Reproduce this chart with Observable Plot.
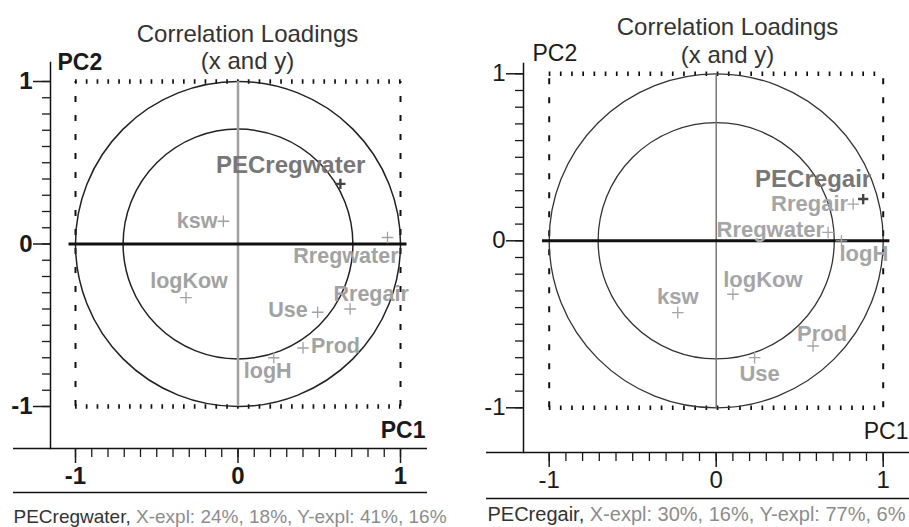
<!DOCTYPE html>
<html><head><meta charset="utf-8">
<script src="https://cdn.jsdelivr.net/npm/d3@7"></script>
<script src="https://cdn.jsdelivr.net/npm/@observablehq/plot@0.6"></script>
<style>
body{margin:0;background:#fff;}
#wrap{position:relative;width:909px;height:527px;overflow:hidden;background:#fff;font-family:"Liberation Sans",Arial,sans-serif;}
.panel{position:absolute;top:0;}
</style></head><body><div id="wrap"></div>
<script>
// ---- data ----
const waterNames = ["PECregwater","ksw","Rregwater","logKow","Use","Rregair","Prod","logH"];
const waterPC1   = [0.63, -0.09, 0.92, -0.32, 0.49, 0.69, 0.40, 0.22];
const waterPC2   = [0.37,  0.14, 0.04, -0.33, -0.42, -0.40, -0.64, -0.70];

const airNames = ["PECregair","Rregair","Rregwater","logH","logKow","ksw","Prod","Use"];
const airPC1   = [0.88, 0.82, 0.67, 0.75, 0.10, -0.23, 0.58, 0.23];
const airPC2   = [0.25, 0.22, 0.05, 0.00, -0.32, -0.43, -0.63, -0.70];

const majorTicks = [-1, 0, 1];
const titleLines = ["Correlation Loadings", "(x and y)"];
const axisNames = ["PC1", "PC2"];
const captionNames = ["PECregwater,", "PECregair,"];
const captionExpl = ["X-expl: 24%, 18%, Y-expl: 41%, 16%", "X-expl: 30%, 16%, Y-expl: 77%, 6%"];

// ---- layout (pixels) ----
const minorTicks = d3.range(-10, 11).map(i => i / 10);
const FONT = "Liberation Sans, Arial, sans-serif";

function measure(txt, size, weight) {
  const c = document.createElement("canvas").getContext("2d");
  c.font = `${weight || "normal"} ${size}px "Liberation Sans", Arial, sans-serif`;
  return c.measureText(txt).width;
}

function panel(cfg) {
  const {W, H, s, ox, oy, L, R, T, B, ext, sepY} = cfg;
  const X = px => (px - ox) / s, Y = py => (oy - py) / s;
  const xd = [X(L), X(R)], yd = [Y(B), Y(T)];
  const pts = cfg.names.map((n, i) => ({name: n, x: cfg.xs[i], y: cfg.ys[i]}));
  const main = pts.slice(0, 1), rest = pts.slice(1);
  const capW = measure(cfg.capName + " ", cfg.capSize, "normal");
  const labelMarks = pts.map((p, i) => {
    const [anchor, dx, dy] = cfg.layout[p.name];
    return Plot.text([p], {x: "x", y: "y", text: "name", textAnchor: anchor, dx, dy, lineAnchor: "bottom",
      fontSize: i === 0 ? cfg.mainSize : cfg.labSize, fontWeight: "bold", fill: i === 0 ? cfg.mainColor : cfg.labColor});
  });
  return Plot.plot({
    width: W, height: H,
    marginLeft: L, marginRight: W - R, marginTop: T, marginBottom: H - B,
    x: {domain: xd, axis: null}, y: {domain: yd, axis: null},
    style: {fontFamily: FONT, background: "transparent", overflow: "visible", color: "#1a1a1a"},
    marks: [
      // dotted unit square
      Plot.ruleY([-1, 1], {x1: -1, x2: 1.01, stroke: "#111", strokeWidth: 4.5, strokeDasharray: cfg.hDash}),
      Plot.ruleX([-1, 1], {y1: -1, y2: 1, stroke: "#111", strokeWidth: 2, strokeDasharray: "6,13"}),
      // correlation circles
      Plot.dot([{x: 0, y: 0}], {x: "x", y: "y", r: s, fill: "none", stroke: cfg.circColor, strokeWidth: cfg.circW}),
      Plot.dot([{x: 0, y: 0}], {x: "x", y: "y", r: s * Math.SQRT1_2, fill: "none", stroke: cfg.circColor, strokeWidth: cfg.circW}),
      // origin lines
      Plot.ruleX([0], {y1: -1, y2: 1, stroke: cfg.vColor, strokeWidth: cfg.vW}),
      Plot.ruleY([0], {x1: -1.04, x2: 1.04, stroke: "#111", strokeWidth: 3}),
      // axes
      Plot.frame({anchor: "left", stroke: "#111", strokeWidth: 1.5}),
      Plot.ruleY([yd[0]], {x1: X(ext), x2: xd[1], stroke: "#111", strokeWidth: 1.5}),
      Plot.ruleY([Y(sepY)], {x1: X(ext), x2: xd[1], stroke: "#111", strokeWidth: 1.5}),
      Plot.axisY(minorTicks, {anchor: "left", tickSize: 8, tickFormat: () => "", label: null, strokeWidth: 1.3}),
      Plot.axisY(majorTicks, {anchor: "left", tickSize: 17, tickPadding: 1, tickFormat: d => String(d), label: null,
        fontSize: cfg.tickSize, fontWeight: cfg.axisWeight, strokeWidth: 1.5}),
      Plot.axisX(minorTicks, {anchor: "bottom", tickSize: 9, tickFormat: () => "", label: null, strokeWidth: 1.3}),
      Plot.axisX(majorTicks, {anchor: "bottom", tickSize: 15, tickPadding: 3, tickFormat: d => String(d), label: null,
        fontSize: cfg.tickSize, fontWeight: cfg.axisWeight, strokeWidth: 1.5}),
      // points
      Plot.dot(rest, {x: "x", y: "y", symbol: "plus", r: 3.8, stroke: cfg.labColor, strokeWidth: 1.3}),
      Plot.dot(main, {x: "x", y: "y", symbol: "plus", r: 3.4, stroke: "#444", strokeWidth: 2.4}),
      ...labelMarks,
      // titles & axis names
      Plot.text([titleLines[0]], {x: X(cfg.titleX), y: Y(cfg.titleY1), text: d => d, lineAnchor: "bottom", fontSize: 24, fill: "#333"}),
      Plot.text([titleLines[1]], {x: X(cfg.titleX), y: Y(cfg.titleY2), text: d => d, lineAnchor: "bottom", fontSize: 24, fill: "#333"}),
      Plot.text([axisNames[1]], {x: X(cfg.pc2X), y: Y(cfg.pc2Y), text: d => d, lineAnchor: "bottom", textAnchor: "start", fontSize: 23, fontWeight: cfg.axisWeight, fill: "#1a1a1a"}),
      Plot.text([axisNames[0]], {x: X(cfg.pc1X), y: Y(cfg.pc1Y), text: d => d, lineAnchor: "bottom", textAnchor: "end", fontSize: 23, fontWeight: cfg.axisWeight, fill: "#1a1a1a"}),
      // caption
      Plot.text([cfg.capName], {x: X(cfg.capX), y: Y(cfg.capY), text: d => d, lineAnchor: "bottom", textAnchor: "start", fontSize: cfg.capSize, fill: "#333"}),
      Plot.text([cfg.capExpl], {x: X(cfg.capX + capW), y: Y(cfg.capY), text: d => d, lineAnchor: "bottom", textAnchor: "start", fontSize: cfg.capSize, fill: "#8c8c8c"})
    ]
  });
}

const leftCfg = {
  W: 455, H: 527, s: 162.5, ox: 237.5, oy: 243.5, L: 50, R: 427, T: 62, B: 448, ext: 13, sepY: 492,
  names: waterNames, xs: waterPC1, ys: waterPC2,
  layout: {
    PECregwater: ["end", 25, -11], ksw: ["end", -6, 7], Rregwater: ["end", 11, 25], logKow: ["middle", 3, -10],
    Use: ["end", -10, 5], Rregair: ["middle", 21, -8], Prod: ["start", 8, 5], logH: ["middle", -6, 20]
  },
  mainSize: 24, labSize: 21.5, mainColor: "#777", labColor: "#a2a2a2",
  hDash: "1.7,9.1", circColor: "#222", circW: 1.5, vColor: "#a0a0a0", vW: 2.5,
  tickSize: 24, axisWeight: "bold",
  titleX: 247, titleY1: 41, titleY2: 68, pc2X: 57, pc2Y: 69, pc1X: 425, pc1Y: 437,
  capName: captionNames[0], capExpl: captionExpl[0], capX: 13, capY: 522, capSize: 19
};
const rightCfg = {
  W: 454, H: 527, s: 167, ox: 260.7, oy: 240.3, L: 68, R: 454, T: 63, B: 452, ext: 31, sepY: 498,
  names: airNames, xs: airPC1, ys: airPC2,
  layout: {
    PECregair: ["end", 8, -12], Rregair: ["end", -5, 7], Rregwater: ["end", -4, 5], logH: ["start", -2, 20],
    logKow: ["middle", 30, -7], ksw: ["middle", 0, -9], Prod: ["middle", 9, -5], Use: ["middle", 5, 23]
  },
  mainSize: 24, labSize: 22, mainColor: "#777", labColor: "#a5a5a5",
  hDash: "1.7,9.5", circColor: "#333", circW: 1.3, vColor: "#777", vW: 1.5,
  tickSize: 24, axisWeight: "normal",
  titleX: 272, titleY1: 34, titleY2: 62, pc2X: 77, pc2Y: 60, pc1X: 453, pc1Y: 438,
  capName: captionNames[1], capExpl: captionExpl[1], capX: 32, capY: 520, capSize: 20
};

const wrap = document.getElementById("wrap");
[[leftCfg, 0], [rightCfg, 455]].forEach(([cfg, left]) => {
  const d = document.createElement("div");
  d.className = "panel";
  d.style.left = left + "px";
  d.appendChild(panel(cfg));
  wrap.appendChild(d);
});
</script></body></html>
